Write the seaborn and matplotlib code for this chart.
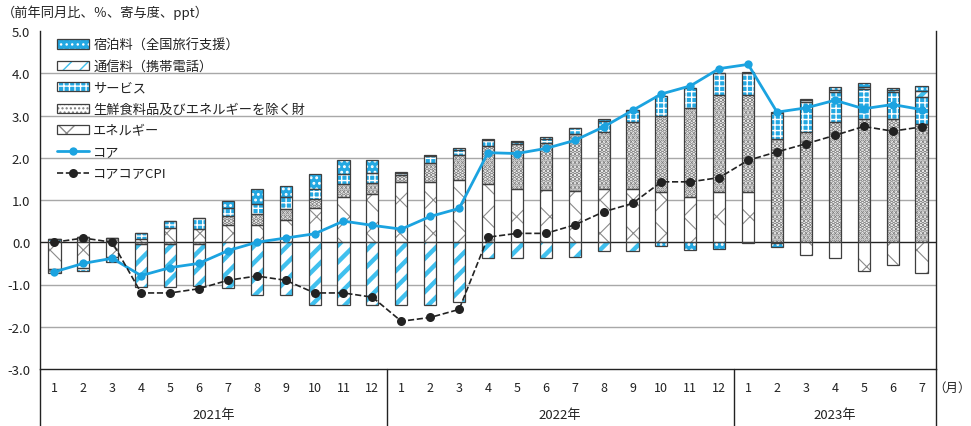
import numpy as np
import pandas as pd
import matplotlib
matplotlib.use("Agg")
import matplotlib.pyplot as plt
import seaborn as sns
from matplotlib.patches import Patch
from matplotlib.lines import Line2D
from matplotlib.transforms import blended_transform_factory

# ---------------- data ----------------
month_labels = [str(m) for m in range(1, 13)] * 2 + [str(m) for m in range(1, 8)]
year_labels = ["2021年", "2022年", "2023年"]

energy = [-0.63, -0.60, -0.36, 0.08, 0.33, 0.31, 0.41, 0.40, 0.53, 0.80, 1.06, 1.14,
          1.42, 1.42, 1.47, 1.39, 1.26, 1.23, 1.22, 1.27, 1.27, 1.18, 1.06, 1.20,
          1.18, -0.02, -0.31, -0.37, -0.68, -0.55, -0.72]
goods = [-0.10, 0.13, 0.10, -0.05, -0.05, -0.04, 0.20, 0.27, 0.26, 0.22, 0.31, 0.27,
         0.17, 0.46, 0.59, 0.89, 1.06, 1.12, 1.34, 1.34, 1.57, 1.81, 2.11, 2.28,
         2.30, 2.45, 2.62, 2.85, 2.92, 2.92, 2.81]
services = [0.08, -0.09, -0.10, 0.15, 0.17, 0.26, 0.20, 0.24, 0.27, 0.25, 0.24, 0.24,
            0.05, 0.16, 0.13, 0.13, 0.06, 0.10, 0.14, 0.27, 0.30, 0.47, 0.49, 0.53,
            0.53, 0.61, 0.70, 0.70, 0.71, 0.64, 0.62]
telecom = [0.0, 0.0, 0.0, -1.00, -1.00, -1.00, -1.09, -1.24, -1.24, -1.48, -1.48, -1.48,
           -1.48, -1.48, -1.42, -0.38, -0.38, -0.38, -0.35, -0.21, -0.21, 0.0, 0.0, 0.0,
           -0.02, 0.03, 0.04, 0.06, 0.04, 0.05, 0.14]
lodging = [0.0, 0.0, 0.0, 0.0, 0.0, 0.0, 0.16, 0.34, 0.27, 0.35, 0.33, 0.29,
           0.03, 0.02, 0.04, 0.03, 0.02, 0.03, 0.0, 0.04, 0.0, -0.10, -0.18, -0.16,
           0.02, -0.10, 0.04, 0.06, 0.09, 0.04, 0.14]
core = [-0.70, -0.50, -0.38, -0.79, -0.60, -0.50, -0.20, 0.00, 0.10, 0.20, 0.50, 0.40,
        0.31, 0.61, 0.80, 2.12, 2.10, 2.22, 2.41, 2.73, 3.12, 3.51, 3.70, 4.11,
        4.21, 3.08, 3.18, 3.36, 3.16, 3.26, 3.14]
corecore = [0.00, 0.10, 0.00, -1.20, -1.20, -1.10, -0.90, -0.80, -0.90, -1.20, -1.20, -1.30,
            -1.87, -1.78, -1.59, 0.12, 0.21, 0.21, 0.41, 0.72, 0.92, 1.43, 1.43, 1.53,
            1.94, 2.14, 2.33, 2.53, 2.74, 2.63, 2.73]

series_names = ["エネルギー", "生鮮食料品及びエネルギーを除く財", "サービス",
                "通信料（携帯電話）", "宿泊料（全国旅行支援）"]
series_values = [energy, goods, services, telecom, lodging]

# ---------------- style ----------------
sns.set_theme(style="white")
plt.rcParams["font.family"] = ["Noto Sans CJK JP", "DejaVu Sans"]
plt.rcParams["hatch.linewidth"] = 1.0

CYAN = "#23A8E2"
OUT = "#3f3f3f"
TXT = "#222222"
FS = 9.5
# (face, hatch, hatch colour, hatch linewidth)
styles = [
    ("white", "x", "#8a8a8a", 0.8),          # energy
    ("white", "....", "#7a7a7a", 2.4),       # goods
    (CYAN, "+++", "white", 1.0),             # services
    ("white", "//", "#40C0EE", 3.2),         # telecom
    (CYAN, "...", "white", 1.3),             # lodging
]

fig = plt.figure(figsize=(9.71, 4.27), dpi=100)
ax = fig.add_axes([40 / 971, 57 / 427, 896 / 971, 338 / 427])

df = pd.DataFrame({"x": np.arange(len(month_labels)), "month": month_labels,
                   "core": core, "corecore": corecore})
x = df["x"].to_numpy()
width = 0.42

pos = np.zeros(len(x))
neg = np.zeros(len(x))
legend_handles = {}
for name, vals, (face, hatch, hcol, hlw) in zip(series_names, series_values, styles):
    v = np.asarray(vals, dtype=float)
    bottom = np.where(v >= 0, pos, neg)
    with plt.rc_context({"hatch.linewidth": hlw}):
        bars = ax.bar(x, v, width, bottom=bottom, color=face, edgecolor=hcol,
                      hatch=hatch, linewidth=0, zorder=2)
        for b in bars:
            if hasattr(b, "set_hatch_linewidth"):
                b.set_hatch_linewidth(hlw)
        fp = Patch(facecolor=face, edgecolor=hcol, hatch=hatch, linewidth=0)
        if hasattr(fp, "set_hatch_linewidth"):
            fp.set_hatch_linewidth(hlw)
    ax.bar(x, v, width, bottom=bottom, fill=False, edgecolor=OUT,
           linewidth=0.9, zorder=3)
    pos = np.where(v >= 0, pos + v, pos)
    neg = np.where(v < 0, neg + v, neg)
    op = Patch(fill=False, edgecolor=OUT, linewidth=0.9)
    legend_handles[name] = (fp, op)

sns.lineplot(data=df, x="x", y="core", ax=ax, color="#1BA3E0", linewidth=2.0,
             marker="o", markersize=6, markeredgewidth=0, legend=False, zorder=5)
sns.lineplot(data=df, x="x", y="corecore", ax=ax, color="#222222", linewidth=1.2,
             linestyle="--", marker="o", markersize=6.5, markeredgewidth=0,
             legend=False, zorder=6)

# ---------------- axes ----------------
ax.set_xlim(-0.5, len(x) - 0.5)
ax.set_ylim(-3, 5)
ax.set_yticks(np.arange(-3, 5.01, 1))
ax.set_yticklabels([f"{t:.1f}" for t in np.arange(-3, 5.01, 1)])
ax.set_xticks(x)
ax.set_xticklabels(month_labels)
ax.tick_params(axis="y", length=0, pad=7, labelsize=FS, colors=TXT)
ax.tick_params(axis="x", length=0, pad=9, labelsize=9, colors=TXT)
ax.set_xlabel("")
ax.set_ylabel("")
for yv in range(-2, 5):
    if yv != 0:
        ax.axhline(yv, color="#a8a8a8", linewidth=1.0, zorder=0)
ax.axhline(0, color="#222222", linewidth=1.0, zorder=1)

for s in ["left", "right", "bottom"]:
    ax.spines[s].set_visible(True)
    ax.spines[s].set_color("#222222")
    ax.spines[s].set_linewidth(1.0)
ax.spines["top"].set_visible(False)

trans = blended_transform_factory(ax.transData, ax.transAxes)
ext = -57 / 338
for xs in [-0.5, 11.5, 23.5, len(x) - 0.5]:
    ax.plot([xs, xs], [0, ext], transform=trans, color="#222222",
            linewidth=1.0, clip_on=False)
for label, xc in zip(year_labels, [5.5, 17.5, 27.0]):
    ax.text(xc, -46 / 338, label, transform=trans, ha="center", va="center",
            fontsize=FS, color=TXT)

fig.text(2 / 971, 1 - 13 / 427, "（前年同月比、％、寄与度、ppt）", ha="left",
         va="center", fontsize=FS, color=TXT)
fig.text(952 / 971, 1 - 388 / 427, "（月）", ha="center", va="center",
         fontsize=9, color=TXT)

# ---------------- legend ----------------
order = ["宿泊料（全国旅行支援）", "通信料（携帯電話）", "サービス",
         "生鮮食料品及びエネルギーを除く財", "エネルギー"]
handles = [legend_handles[n] for n in order]
labels = list(order)
handles.append(Line2D([], [], color="#1BA3E0", linewidth=2.0, marker="o",
                      markersize=6, markeredgewidth=0))
labels.append("コア")
handles.append(Line2D([], [], color="#222222", linewidth=1.2, linestyle="--",
                      marker="o", markersize=6.5, markeredgewidth=0))
labels.append("コアコアCPI")
leg = ax.legend(handles, labels, loc="upper left", bbox_to_anchor=(0.019, 0.978),
                frameon=False, fontsize=FS, handlelength=2.45, handleheight=0.7,
                handletextpad=0.3, labelspacing=0.64, borderpad=0.0,
                borderaxespad=0.0)
for t in leg.get_texts():
    t.set_color(TXT)

fig.savefig("out.png", dpi=100)
